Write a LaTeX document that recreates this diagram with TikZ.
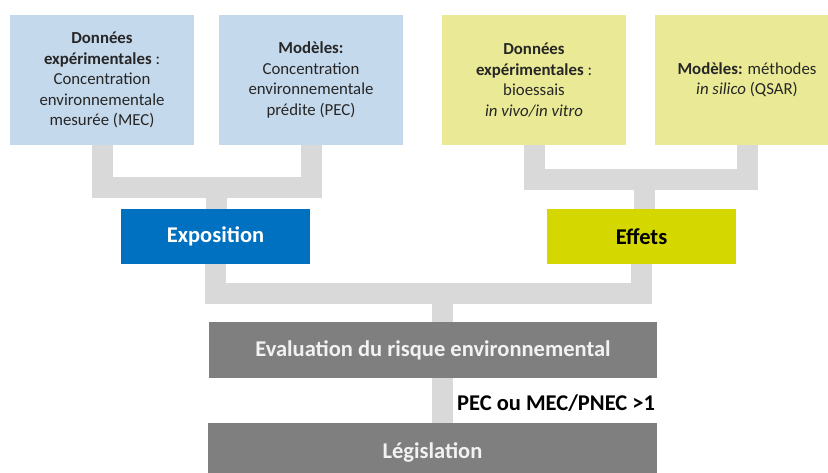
\documentclass[tikz,border=0pt]{standalone}
\usepackage{fontspec}
\setmainfont{Carlito}
\usepackage{xcolor}
\usepackage{tikz}
\usetikzlibrary{calc}

\definecolor{bleuclair}{HTML}{C5D9ED}
\definecolor{jauneclair}{HTML}{EAEA96}
\definecolor{bleuexpo}{HTML}{0070C0}
\definecolor{jauneeffet}{HTML}{D5D700}
\definecolor{grisbloc}{HTML}{7F7F7F}
\definecolor{grislien}{HTML}{D9D9D9}
\definecolor{texte}{HTML}{262626}

\tikzset{
  source/.style={minimum width=184pt, minimum height=130pt, inner sep=0pt, align=center,
    text=texte, font=\fontsize{16.8}{20.5}\selectfont},
  bloc/.style={minimum width=189pt, minimum height=55pt, inner sep=0pt,
    font=\fontsize{22.5}{26}\selectfont\bfseries},
  lien/.style={grislien, line width=21pt}
}

\begin{document}
\begin{tikzpicture}[x=1pt,y=-1pt]
\useasboundingbox (0,0) rectangle (828,473);
\clip (0,0) rectangle (828,473);

% Sources
\node[source, fill=bleuclair] (donexp) at (102,80) {\textbf{Données}\\\textbf{expérimentales} :\\Concentration\\environnementale\\mesurée (MEC)};
\node[source, fill=bleuclair] (modexp) at (311,80) {\textbf{Modèles:}\\Concentration\\environnementale\\prédite (PEC)};
\node[source, fill=jauneclair] (doneff) at (534,80) {\textbf{Données}\\\textbf{expérimentales} :\\bioessais\\\textit{in vivo/in vitro}};
\node[source, fill=jauneclair] (modeff) at (747,80) {\textbf{Modèles:} méthodes\\\textit{in silico} (QSAR)};

% Blocs
\node[bloc, fill=bleuexpo, text=white] (expo) at (215.5,236.5) {Exposition};
\node[bloc, fill=jauneeffet, text=black] (effets) at (641.5,236.5) {Effets};
\node[bloc, fill=grisbloc, text=white!95!black, minimum width=448pt, minimum height=56pt] (eval) at (433,350) {Evaluation du risque environnemental};
\node[bloc, fill=grisbloc, text=white!95!black, minimum width=449pt, minimum height=58pt] (legis) at (432.5,452) {Législation};

% Liens
\coordinate (jexpo) at (216.5,187.5);
\coordinate (jeff) at (644.5,180);
\coordinate (jeval) at (442,293.5);
\draw[lien] (donexp.south) |- (jexpo) -| (modexp.south);
\draw[lien] (jexpo) -- (jexpo |- expo.north);
\draw[lien] (doneff.south) |- (jeff) -| (modeff.south);
\draw[lien] (jeff) -- (jeff |- effets.north);
\draw[lien] (expo.south) |- (jeval) -| (effets.south);
\draw[lien] (jeval) -- (jeval |- eval.north);
\draw[lien] (jeval |- eval.south) -- (jeval |- legis.north) coordinate (jlegis);

% Condition
\node[anchor=west, inner sep=0pt, font=\fontsize{22.5}{26}\selectfont\bfseries, text=black] (cond) at (457,403) {PEC ou MEC/PNEC >1};
\end{tikzpicture}
\end{document}
